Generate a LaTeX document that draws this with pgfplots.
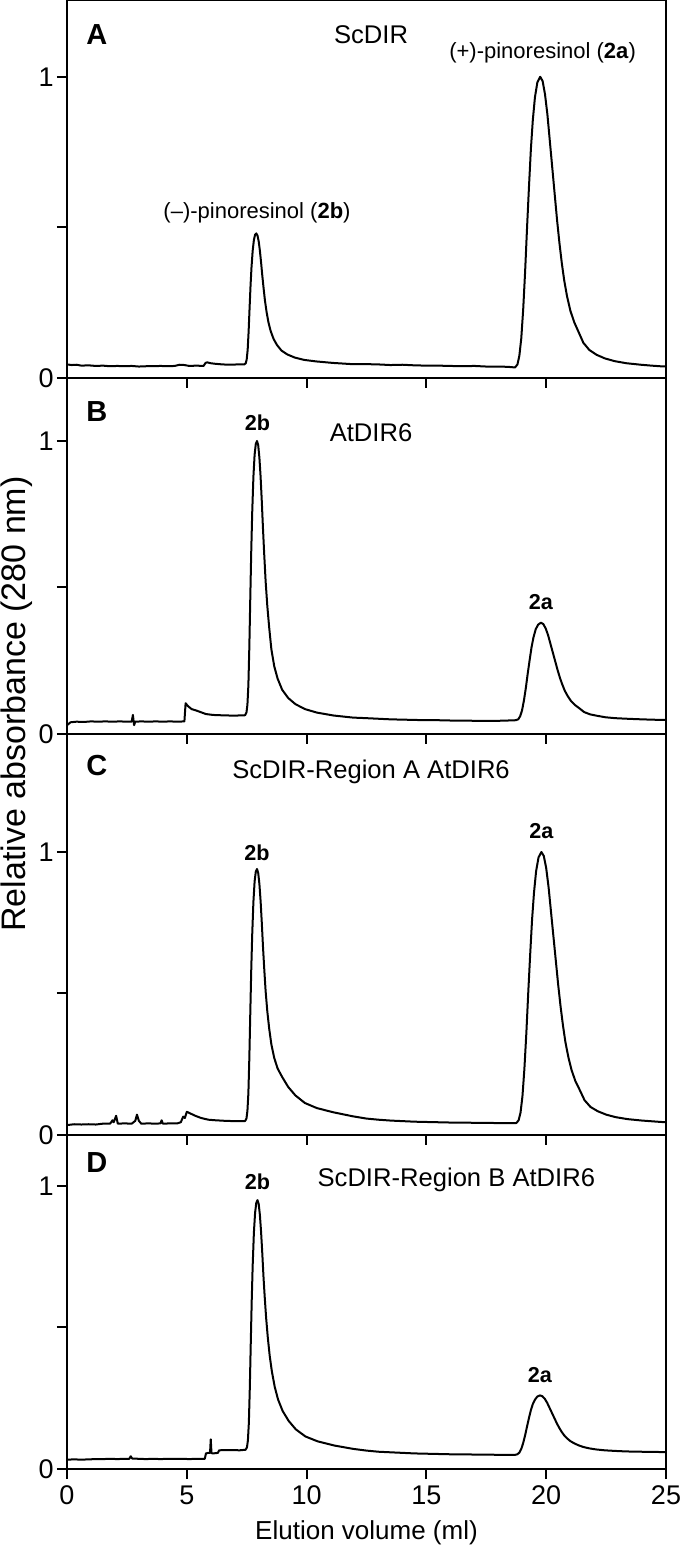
\documentclass[border=0pt]{standalone}
\usepackage{fontspec}
\setmainfont{Liberation Sans}
\usepackage{pgfplots}
\pgfplotsset{compat=1.18}

\pgfplotstableread{
x y
0 0.045
0.2 0.043
0.4 0.044
0.6 0.041
0.9 0.042
1.2 0.040
1.5 0.041
1.8 0.039
2.1 0.040
2.4 0.039
2.7 0.040
3.0 0.038
3.3 0.039
3.6 0.039
3.9 0.040
4.2 0.039
4.5 0.040
4.7 0.044
4.9 0.043
5.1 0.040
5.4 0.041
5.7 0.040
5.78 0.050
5.85 0.052
6.0 0.049
6.2 0.047
6.5 0.045
6.8 0.044
7.1 0.045
7.40 0.045
7.46 0.049
7.50 0.062
7.54 0.093
7.58 0.154
7.62 0.232
7.66 0.306
7.70 0.367
7.75 0.423
7.80 0.458
7.85 0.476
7.90 0.480
7.95 0.473
8.00 0.454
8.05 0.423
8.10 0.384
8.15 0.341
8.20 0.302
8.26 0.258
8.33 0.219
8.41 0.184
8.50 0.156
8.62 0.130
8.76 0.110
8.95 0.091
9.20 0.078
9.50 0.068
9.90 0.060
10.4 0.055
11.1 0.050
11.9 0.046
12.5 0.046
13 0.045
13.5 0.043
14 0.044
14.5 0.042
15 0.041
15.5 0.041
16 0.040
16.5 0.039
17 0.040
17.5 0.038
18 0.038
18.4 0.037
18.70 0.035
18.80 0.045
18.88 0.074
18.96 0.132
19.04 0.228
19.12 0.353
19.20 0.498
19.28 0.633
19.36 0.759
19.44 0.855
19.53 0.932
19.63 0.981
19.75 1.000
19.85 0.986
19.95 0.942
20.05 0.875
20.15 0.788
20.25 0.701
20.35 0.614
20.45 0.527
20.55 0.450
20.65 0.382
20.75 0.325
20.87 0.271
21.01 0.223
21.17 0.185
21.35 0.153
21.55 0.117
21.80 0.093
22.10 0.077
22.45 0.065
22.85 0.056
23.35 0.049
23.95 0.044
24.40 0.041
24.75 0.039
25 0.038
}\dataA

\pgfplotstableread{
x y
0 0.030
0.15 0.040
0.4 0.042
0.7 0.041
1.0 0.043
1.3 0.042
1.6 0.043
1.9 0.042
2.2 0.043
2.5 0.042
2.7 0.042
2.75 0.065
2.8 0.030
2.85 0.042
3.1 0.043
3.4 0.042
3.7 0.043
4.0 0.042
4.3 0.043
4.6 0.042
4.9 0.043
4.95 0.105
5.05 0.095
5.2 0.085
5.4 0.080
5.6 0.074
5.8 0.068
6.1 0.065
6.4 0.064
6.8 0.063
7.1 0.063
7.43 0.064
7.49 0.073
7.53 0.100
7.57 0.166
7.61 0.297
7.65 0.466
7.69 0.625
7.73 0.756
7.78 0.878
7.83 0.953
7.88 0.990
7.93 1.000
7.98 0.986
8.03 0.943
8.08 0.878
8.13 0.794
8.18 0.700
8.23 0.615
8.29 0.521
8.36 0.437
8.44 0.362
8.53 0.289
8.65 0.231
8.79 0.189
8.98 0.151
9.23 0.123
9.53 0.102
9.93 0.085
10.43 0.073
11.13 0.063
11.93 0.056
12.5 0.054
13 0.052
13.5 0.050
14 0.049
14.5 0.048
15 0.047
15.5 0.047
16 0.046
16.5 0.046
17 0.045
17.5 0.045
18 0.045
18.4 0.046
18.73 0.047
18.83 0.050
18.91 0.060
18.99 0.080
19.07 0.114
19.15 0.157
19.23 0.207
19.31 0.253
19.39 0.297
19.47 0.330
19.56 0.357
19.66 0.373
19.78 0.380
19.88 0.375
19.98 0.360
20.08 0.337
20.18 0.307
20.28 0.277
20.38 0.247
20.48 0.217
20.58 0.190
20.68 0.167
20.78 0.147
20.90 0.129
21.04 0.112
21.20 0.099
21.38 0.088
21.58 0.075
21.83 0.067
22.13 0.062
22.48 0.057
22.88 0.054
23.38 0.052
23.98 0.050
24.78 0.048
25 0.048
}\dataB

\pgfplotstableread{
x y
0 0.035
0.3 0.038
0.6 0.037
0.9 0.038
1.2 0.037
1.5 0.040
1.8 0.040
1.9 0.052
1.95 0.045
2.05 0.068
2.12 0.040
2.4 0.041
2.7 0.040
2.85 0.050
2.92 0.072
3.0 0.050
3.1 0.040
3.4 0.041
3.7 0.040
3.9 0.041
3.95 0.052
4.0 0.040
4.3 0.041
4.6 0.041
4.75 0.045
4.85 0.065
4.92 0.060
5.0 0.082
5.15 0.076
5.35 0.068
5.6 0.060
5.9 0.054
6.2 0.052
6.6 0.050
7.0 0.049
7.43 0.049
7.49 0.058
7.53 0.085
7.57 0.147
7.61 0.272
7.65 0.432
7.69 0.584
7.73 0.708
7.78 0.824
7.83 0.896
7.88 0.931
7.93 0.940
7.98 0.926
8.03 0.887
8.08 0.827
8.13 0.750
8.18 0.665
8.23 0.590
8.29 0.508
8.36 0.437
8.44 0.375
8.53 0.320
8.65 0.272
8.79 0.235
8.98 0.205
9.23 0.170
9.53 0.140
9.93 0.113
10.43 0.095
11.13 0.080
11.93 0.066
12.5 0.058
13 0.054
13.5 0.051
14 0.049
14.5 0.047
15 0.046
15.5 0.045
16 0.044
16.5 0.044
17 0.043
17.5 0.043
18 0.042
18.4 0.042
18.75 0.042
18.85 0.052
18.93 0.080
19.01 0.138
19.09 0.234
19.17 0.358
19.25 0.502
19.33 0.636
19.41 0.761
19.49 0.856
19.58 0.933
19.68 0.981
19.80 1.000
19.90 0.986
20.00 0.943
20.10 0.875
20.20 0.789
20.30 0.703
20.40 0.617
20.50 0.531
20.60 0.454
20.70 0.387
20.80 0.329
20.92 0.277
21.06 0.229
21.22 0.190
21.40 0.159
21.60 0.123
21.85 0.099
22.15 0.084
22.50 0.072
22.90 0.063
23.40 0.056
24.00 0.051
24.80 0.046
25 0.045
}\dataC

\pgfplotstableread{
x y
0 0.033
0.3 0.034
0.6 0.033
0.9 0.034
1.2 0.035
1.5 0.035
1.8 0.036
2.1 0.035
2.4 0.036
2.6 0.036
2.66 0.045
2.72 0.037
3.0 0.036
3.3 0.035
3.6 0.036
3.9 0.035
4.2 0.036
4.5 0.036
4.8 0.036
5.1 0.035
5.4 0.036
5.75 0.036
5.8 0.055
5.9 0.057
5.97 0.057
6.0 0.105
6.03 0.056
6.1 0.055
6.3 0.057
6.35 0.066
6.6 0.067
6.9 0.067
7.2 0.066
7.45 0.068
7.51 0.076
7.55 0.101
7.59 0.163
7.63 0.287
7.67 0.446
7.71 0.596
7.75 0.720
7.80 0.835
7.85 0.905
7.90 0.940
7.95 0.950
8.00 0.937
8.05 0.898
8.10 0.838
8.15 0.763
8.20 0.680
8.25 0.610
8.31 0.535
8.38 0.465
8.46 0.400
8.55 0.345
8.67 0.290
8.81 0.245
9.00 0.205
9.25 0.170
9.55 0.140
9.95 0.115
10.45 0.098
11.15 0.083
11.95 0.071
12.5 0.065
13 0.061
13.5 0.059
14 0.057
14.5 0.055
15 0.054
15.5 0.053
16 0.052
16.5 0.052
17 0.051
17.5 0.051
18 0.050
18.4 0.050
18.70 0.050
18.80 0.052
18.88 0.058
18.96 0.071
19.04 0.092
19.12 0.119
19.20 0.150
19.28 0.180
19.36 0.208
19.44 0.229
19.53 0.245
19.63 0.256
19.74 0.260
19.84 0.257
19.94 0.248
20.04 0.234
20.14 0.216
20.24 0.198
20.34 0.180
20.44 0.162
20.54 0.146
20.64 0.132
20.74 0.120
20.86 0.109
21.00 0.099
21.16 0.091
21.34 0.084
21.54 0.078
21.79 0.073
22.09 0.069
22.44 0.066
22.84 0.064
23.34 0.062
23.94 0.061
24.74 0.060
25 0.060
}\dataD

\pgfplotsset{
  panel/.style={
    scale only axis, width=299.5pt,
    xmin=0, xmax=25, ymin=0,
    axis line style={line width=1pt},
    every tick/.style={black, line width=1pt},
    tick align=outside,
    major tick length=5pt,
    xtick={0,5,...,25}, ytick={0,0.5,1}, yticklabels={0,,1},
    xtick pos=bottom, ytick pos=left,
    xticklabels={},
    tick label style={font=\fontsize{13.5}{16}\selectfont},
    yticklabel style={inner xsep=1.5pt},
    anchor=north west,
  },
  trace/.style={black, line width=1pt, mark=none, line join=round},
}
\newcommand{\plab}[1]{{\fontsize{14.5}{17}\selectfont\bfseries #1}}
\newcommand{\ttl}[1]{{\fontsize{12.8}{15}\selectfont #1}}
\newcommand{\pk}[1]{{\fontsize{10.8}{13}\selectfont\bfseries #1}}
\newcommand{\pin}[1]{{\fontsize{11}{13}\selectfont #1}}

\begin{document}
\begin{tikzpicture}
\useasboundingbox (0,0) rectangle (340pt,774pt);

% Panel A
\begin{axis}[panel, at={(33.5pt,774pt)}, height=189pt, ymax=1.255]
\addplot[trace] table[x=x,y=y] {\dataA};
\node at (axis cs:1.25,1.14) {\plab{A}};
\node at (axis cs:12.69,1.14) {\ttl{ScDIR}};
\node at (axis cs:19.85,1.08) {\pin{(+)-pinoresinol (\textbf{2a})}};
\node at (axis cs:7.93,0.55) {\pin{(–)-pinoresinol (\textbf{2b})}};
\end{axis}

% Panel B
\begin{axis}[panel, at={(33.5pt,585pt)}, height=178pt, ymax=1.215]
\addplot[trace] table[x=x,y=y] {\dataB};
\node at (axis cs:1.25,1.099) {\plab{B}};
\node at (axis cs:7.95,1.061) {\pk{2b}};
\node at (axis cs:12.69,1.027) {\ttl{AtDIR6}};
\node at (axis cs:19.78,0.45) {\pk{2a}};
\end{axis}

% Panel C
\begin{axis}[panel, at={(33.5pt,407pt)}, height=200.5pt, ymax=1.417]
\addplot[trace] table[x=x,y=y] {\dataC};
\node at (axis cs:1.25,1.307) {\plab{C}};
\node at (axis cs:12.69,1.283) {\ttl{ScDIR-Region A AtDIR6}};
\node at (axis cs:7.93,0.996) {\pk{2b}};
\node at (axis cs:19.80,1.074) {\pk{2a}};
\end{axis}

% Panel D
\begin{axis}[panel, at={(33.5pt,206.5pt)}, height=167pt, ymax=1.18,
  xticklabels={0,5,10,15,20,25},
  xlabel={Elution volume (ml)},
  xlabel style={font=\fontsize{13}{15}\selectfont, at={(axis description cs:0.5,0)}, yshift=-32pt, anchor=center},
  ]
\addplot[trace] table[x=x,y=y] {\dataD};
\node at (axis cs:1.25,1.081) {\plab{D}};
\node at (axis cs:7.95,1.014) {\pk{2b}};
\node at (axis cs:16.25,1.021) {\ttl{ScDIR-Region B AtDIR6}};
\node at (axis cs:19.74,0.332) {\pk{2a}};
\end{axis}

\node[rotate=90, font=\fontsize{17}{20}\selectfont] at (8.5pt,422pt) {Relative absorbance (280 nm)};
\end{tikzpicture}
\end{document}
